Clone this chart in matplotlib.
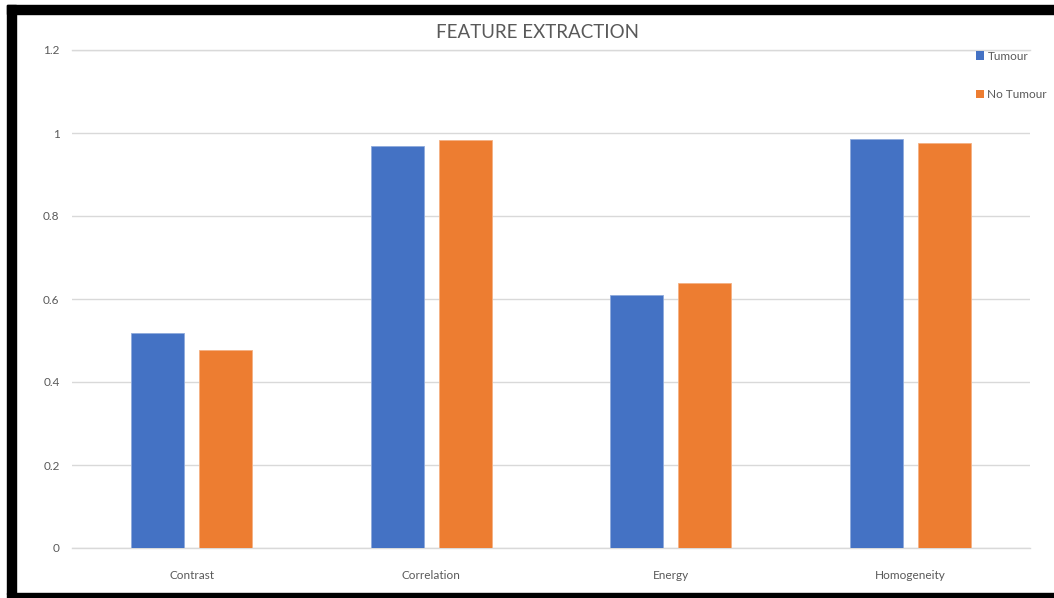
import matplotlib
matplotlib.use("Agg")
import matplotlib.pyplot as plt
from matplotlib.patches import Patch, Rectangle
import numpy as np

# feature values per class
features = ["Contrast", "Correlation", "Energy", "Homogeneity"]
tumour = [0.518, 0.969, 0.610, 0.986]
no_tumour = [0.477, 0.983, 0.639, 0.976]
series_names = ["Tumour", "No Tumour"]
yticks = [0, 0.2, 0.4, 0.6, 0.8, 1.0, 1.2]
ytick_labels = ["0", "0.2", "0.4", "0.6", "0.8", "1", "1.2"]

BLUE = "#4472C4"
ORANGE = "#ED7D31"
GREY = "#595959"

plt.rcParams['font.family'] = ["Lato", "DejaVu Sans"]

W, H = 1054, 598
fig = plt.figure(figsize=(W / 100, H / 100), dpi=100)
fig.patch.set_facecolor("white")

ax = fig.add_axes([72 / W, 50 / H, (1030 - 72) / W, (548 - 50) / H])
x = np.arange(len(features))
bw = 0.222
off = 0.142
ax.bar(x - off, tumour, bw, color=BLUE, edgecolor="#8FAADC", linewidth=0.6, zorder=3)
ax.bar(x + off, no_tumour, bw, color=ORANGE, edgecolor="#F4B183", linewidth=0.6, zorder=3)

ax.set_xlim(-0.5, len(features) - 0.5)
ax.set_ylim(0, 1.2)
ax.set_yticks(yticks)
ax.set_yticklabels(ytick_labels)
ax.set_xticks(x)
ax.set_xticklabels(features)
ax.grid(axis="y", color="#D9D9D9", linewidth=1.0, zorder=0)
for yv in (0, 1.2):
    ax.axhline(yv, color="#D9D9D9", linewidth=1.0, zorder=1, clip_on=False)
ax.set_axisbelow(True)
for s in ax.spines.values():
    s.set_visible(False)
ax.tick_params(length=0, labelsize=8.5, colors=GREY)
ax.tick_params(axis="x", pad=16)
ax.tick_params(axis="y", pad=9)

fig.text(537 / W, (H - 33) / H, "FEATURE EXTRACTION", ha="center", va="center",
         fontsize=13.5, color=GREY)

handles = [Patch(facecolor=BLUE), Patch(facecolor=ORANGE)]
fig.legend(handles, series_names, loc="upper left", frameon=False,
           bbox_to_anchor=(965 / W, (H - 40) / H), handlelength=0.7, handleheight=0.7,
           handletextpad=0.3, labelspacing=2.3, fontsize=8.5, labelcolor=GREY)

# black frame around the chart
for rx, ry, rw, rh in [(7, 5, 9, 589), (7, 5, 1047, 9), (7, 593, 1047, 5)]:
    fig.patches.append(Rectangle((rx / W, 1 - (ry + rh) / H), rw / W, rh / H,
                                 transform=fig.transFigure, color="black", zorder=10))

fig.savefig("out.png", dpi=100)
